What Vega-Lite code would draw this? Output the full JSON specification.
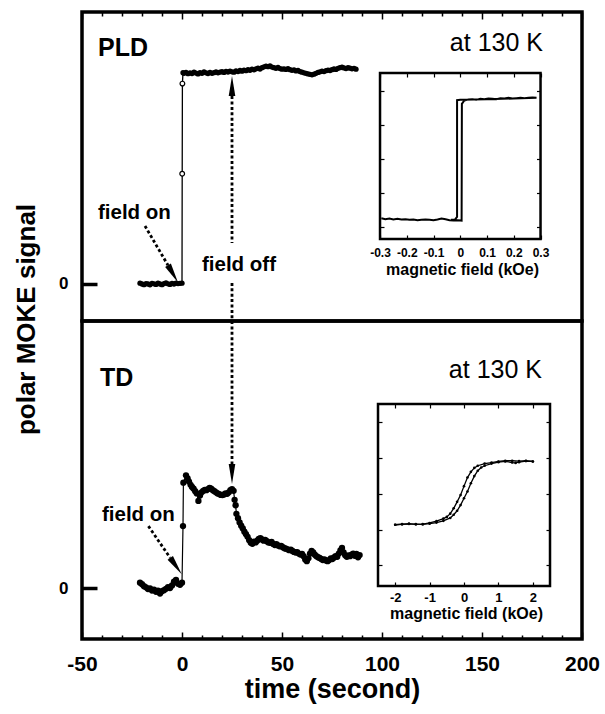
{
  "$schema": "https://vega.github.io/schema/vega-lite/v6.json",
  "padding": {"left": 11, "top": 9, "right": 0, "bottom": 0},
  "spacing": 0,
  "bounds": "flush",
  "config": {
    "view": {"stroke": "black", "strokeWidth": 3.5},
    "font": "Liberation Sans",
    "axis": {"grid": false, "domain": false, "tickColor": "black", "labelColor": "black", "titleColor": "black", "labelFontWeight": "bold", "titleFontWeight": "bold", "labelFont": "Liberation Sans", "titleFont": "Liberation Sans", "tickWidth": 1.5, "labelFlush": false, "labelOverlap": false}
  },
  "datasets": {
    "pld": [
      {"t": -21, "s": 0.004}, {"t": -20, "s": 0.0}, {"t": -19, "s": -0.003}, {"t": -18, "s": 0.002}, {"t": -17, "s": 0.0}, {"t": -16, "s": -0.004}, {"t": -15, "s": 0.003}, {"t": -14, "s": 0.001}, {"t": -13, "s": -0.002}, {"t": -12, "s": 0.004}, {"t": -11, "s": 0.0}, {"t": -10, "s": -0.003}, {"t": -9, "s": 0.002}, {"t": -8, "s": 0.005}, {"t": -7, "s": 0.001}, {"t": -6, "s": -0.002}, {"t": -5, "s": 0.003}, {"t": -4, "s": 0.0}, {"t": -3, "s": 0.004}, {"t": -2, "s": 0.002}, {"t": -1, "s": 0.003}, {"t": 0, "s": 0.004},
      {"t": 0.1, "s": 0.513, "k": "o"}, {"t": 0.2, "s": 0.932, "k": "o"},
      {"t": 0.5, "s": 0.983}, {"t": 1, "s": 0.980}, {"t": 2, "s": 0.984}, {"t": 3, "s": 0.978}, {"t": 4, "s": 0.982}, {"t": 5, "s": 0.979}, {"t": 6, "s": 0.985}, {"t": 7, "s": 0.981}, {"t": 8, "s": 0.977}, {"t": 9, "s": 0.983}, {"t": 10, "s": 0.980},
      {"t": 11, "s": 0.986}, {"t": 12, "s": 0.982}, {"t": 13, "s": 0.979}, {"t": 14, "s": 0.984}, {"t": 15, "s": 0.980}, {"t": 16, "s": 0.983}, {"t": 17, "s": 0.987}, {"t": 18, "s": 0.982}, {"t": 19, "s": 0.985}, {"t": 20, "s": 0.988},
      {"t": 21, "s": 0.984}, {"t": 22, "s": 0.989}, {"t": 23, "s": 0.986}, {"t": 24, "s": 0.990}, {"t": 25, "s": 0.987}, {"t": 26, "s": 0.985}, {"t": 27, "s": 0.991}, {"t": 28, "s": 0.988}, {"t": 29, "s": 0.993}, {"t": 30, "s": 0.990},
      {"t": 31, "s": 0.995}, {"t": 32, "s": 0.992}, {"t": 33, "s": 0.997}, {"t": 34, "s": 0.994}, {"t": 35, "s": 0.999}, {"t": 36, "s": 0.996}, {"t": 37, "s": 1.001}, {"t": 38, "s": 1.004}, {"t": 39, "s": 1.000}, {"t": 40, "s": 1.006},
      {"t": 41, "s": 1.010}, {"t": 42, "s": 1.013}, {"t": 43, "s": 1.011}, {"t": 44, "s": 1.014}, {"t": 45, "s": 1.009}, {"t": 46, "s": 1.006}, {"t": 47, "s": 1.003}, {"t": 48, "s": 1.007}, {"t": 49, "s": 1.002}, {"t": 50, "s": 0.999},
      {"t": 51, "s": 1.001}, {"t": 52, "s": 0.998}, {"t": 53, "s": 1.002}, {"t": 54, "s": 0.997}, {"t": 55, "s": 0.994}, {"t": 56, "s": 0.996}, {"t": 57, "s": 0.991}, {"t": 58, "s": 0.993}, {"t": 59, "s": 0.988}, {"t": 60, "s": 0.985},
      {"t": 61, "s": 0.982}, {"t": 62, "s": 0.980}, {"t": 63, "s": 0.977}, {"t": 64, "s": 0.975}, {"t": 65, "s": 0.973}, {"t": 66, "s": 0.976}, {"t": 67, "s": 0.980}, {"t": 68, "s": 0.984}, {"t": 69, "s": 0.987}, {"t": 70, "s": 0.990},
      {"t": 71, "s": 0.988}, {"t": 72, "s": 0.992}, {"t": 73, "s": 0.995}, {"t": 74, "s": 0.993}, {"t": 75, "s": 0.997}, {"t": 76, "s": 1.000}, {"t": 77, "s": 0.998}, {"t": 78, "s": 1.003}, {"t": 79, "s": 1.006}, {"t": 80, "s": 1.009},
      {"t": 81, "s": 1.005}, {"t": 82, "s": 1.002}, {"t": 83, "s": 1.006}, {"t": 84, "s": 1.004}, {"t": 85, "s": 1.001}, {"t": 86, "s": 1.003}, {"t": 87, "s": 0.999}
    ],
    "td": [
      {"t": -21, "s": 0.025}, {"t": -20, "s": 0.018}, {"t": -19, "s": 0.008}, {"t": -18, "s": 0.003}, {"t": -17, "s": -0.005}, {"t": -16, "s": -0.002}, {"t": -15, "s": -0.012}, {"t": -14, "s": -0.008}, {"t": -13, "s": -0.018}, {"t": -12, "s": -0.012}, {"t": -11, "s": -0.026}, {"t": -10, "s": -0.015}, {"t": -9, "s": -0.010}, {"t": -8, "s": -0.004}, {"t": -7, "s": 0.004}, {"t": -6, "s": 0.0}, {"t": -5, "s": 0.012}, {"t": -4, "s": 0.030}, {"t": -3, "s": 0.038}, {"t": -2, "s": 0.020}, {"t": -1, "s": 0.015}, {"t": 0, "s": 0.025},
      {"t": 0.5, "s": 0.288}, {"t": 0.7, "s": 0.49}, {"t": 2, "s": 0.524}, {"t": 2.8, "s": 0.51}, {"t": 3.5, "s": 0.495}, {"t": 4.3, "s": 0.48}, {"t": 5, "s": 0.47}, {"t": 5.8, "s": 0.462}, {"t": 6.6, "s": 0.45}, {"t": 7.4, "s": 0.44}, {"t": 8.2, "s": 0.405}, {"t": 9, "s": 0.43}, {"t": 9.8, "s": 0.445},
      {"t": 10.6, "s": 0.452}, {"t": 11.4, "s": 0.456}, {"t": 12.2, "s": 0.455}, {"t": 13, "s": 0.46}, {"t": 13.8, "s": 0.466}, {"t": 14.6, "s": 0.462}, {"t": 15.4, "s": 0.455}, {"t": 16.2, "s": 0.45}, {"t": 17, "s": 0.445}, {"t": 17.8, "s": 0.44}, {"t": 18.6, "s": 0.437}, {"t": 19.4, "s": 0.433}, {"t": 20.2, "s": 0.432}, {"t": 21, "s": 0.435}, {"t": 21.8, "s": 0.44}, {"t": 22.6, "s": 0.438}, {"t": 23.4, "s": 0.445}, {"t": 24.2, "s": 0.455}, {"t": 25, "s": 0.46}, {"t": 25.8, "s": 0.452},
      {"t": 26.3, "s": 0.41}, {"t": 26.8, "s": 0.385}, {"t": 27.2, "s": 0.345}, {"t": 28, "s": 0.325}, {"t": 28.8, "s": 0.305}, {"t": 29.6, "s": 0.29}, {"t": 30.4, "s": 0.277}, {"t": 31.2, "s": 0.262}, {"t": 32, "s": 0.25}, {"t": 32.8, "s": 0.238}, {"t": 33.6, "s": 0.222}, {"t": 34.4, "s": 0.21}, {"t": 35.2, "s": 0.206}, {"t": 36, "s": 0.215}, {"t": 36.8, "s": 0.212}, {"t": 37.6, "s": 0.22}, {"t": 38.4, "s": 0.228}, {"t": 39.2, "s": 0.232}, {"t": 40, "s": 0.226},
      {"t": 40.8, "s": 0.22}, {"t": 41.6, "s": 0.224}, {"t": 42.4, "s": 0.218}, {"t": 43.2, "s": 0.212}, {"t": 44, "s": 0.21}, {"t": 44.8, "s": 0.214}, {"t": 45.6, "s": 0.205}, {"t": 46.4, "s": 0.2}, {"t": 47.2, "s": 0.204}, {"t": 48, "s": 0.198}, {"t": 48.8, "s": 0.194}, {"t": 49.6, "s": 0.196}, {"t": 50.4, "s": 0.19}, {"t": 51.2, "s": 0.185}, {"t": 52, "s": 0.183}, {"t": 52.8, "s": 0.18}, {"t": 53.6, "s": 0.176}, {"t": 54.4, "s": 0.178}, {"t": 55.2, "s": 0.172}, {"t": 56, "s": 0.168},
      {"t": 56.8, "s": 0.165}, {"t": 57.6, "s": 0.167}, {"t": 58.4, "s": 0.16}, {"t": 59.2, "s": 0.156}, {"t": 60, "s": 0.158}, {"t": 60.8, "s": 0.148}, {"t": 61.6, "s": 0.132}, {"t": 62.4, "s": 0.125}, {"t": 63.2, "s": 0.138}, {"t": 64, "s": 0.16}, {"t": 64.8, "s": 0.172}, {"t": 65.6, "s": 0.165}, {"t": 66.4, "s": 0.155}, {"t": 67.2, "s": 0.148}, {"t": 68, "s": 0.143}, {"t": 68.8, "s": 0.14}, {"t": 69.6, "s": 0.135}, {"t": 70.4, "s": 0.13}, {"t": 71.2, "s": 0.133}, {"t": 72, "s": 0.128},
      {"t": 72.8, "s": 0.125}, {"t": 73.6, "s": 0.13}, {"t": 74.4, "s": 0.138}, {"t": 75.2, "s": 0.135}, {"t": 76, "s": 0.142}, {"t": 76.8, "s": 0.148}, {"t": 77.6, "s": 0.145}, {"t": 78.4, "s": 0.16}, {"t": 79.2, "s": 0.175}, {"t": 80, "s": 0.186}, {"t": 80.8, "s": 0.165}, {"t": 81.6, "s": 0.152}, {"t": 82.4, "s": 0.145}, {"t": 83.2, "s": 0.152}, {"t": 84, "s": 0.148}, {"t": 84.8, "s": 0.155}, {"t": 85.6, "s": 0.16}, {"t": 86.4, "s": 0.15}, {"t": 87.2, "s": 0.158}, {"t": 88, "s": 0.143}, {"t": 88.8, "s": 0.153}
    ],
    "pld_loop": [
      {"i": 0, "x": -0.295, "y": -1.74}, {"i": 1, "x": -0.28, "y": -1.77}, {"i": 2, "x": -0.265, "y": -1.75}, {"i": 3, "x": -0.25, "y": -1.78}, {"i": 4, "x": -0.235, "y": -1.76}, {"i": 5, "x": -0.22, "y": -1.78}, {"i": 6, "x": -0.205, "y": -1.77}, {"i": 7, "x": -0.19, "y": -1.79}, {"i": 8, "x": -0.175, "y": -1.78}, {"i": 9, "x": -0.16, "y": -1.8}, {"i": 10, "x": -0.145, "y": -1.79}, {"i": 11, "x": -0.13, "y": -1.78}, {"i": 12, "x": -0.115, "y": -1.79}, {"i": 13, "x": -0.1, "y": -1.8}, {"i": 14, "x": -0.085, "y": -1.78}, {"i": 15, "x": -0.07, "y": -1.75}, {"i": 16, "x": -0.055, "y": -1.77}, {"i": 17, "x": -0.04, "y": -1.8}, {"i": 18, "x": -0.025, "y": -1.81}, {"i": 19, "x": -0.01, "y": -1.8}, {"i": 20, "x": 0.005, "y": -1.81},
      {"i": 21, "x": 0.006, "y": 1.62}, {"i": 22, "x": 0.015, "y": 1.72}, {"i": 23, "x": 0.03, "y": 1.75}, {"i": 24, "x": 0.045, "y": 1.76}, {"i": 25, "x": 0.06, "y": 1.74}, {"i": 26, "x": 0.075, "y": 1.77}, {"i": 27, "x": 0.09, "y": 1.76}, {"i": 28, "x": 0.105, "y": 1.78}, {"i": 29, "x": 0.12, "y": 1.77}, {"i": 30, "x": 0.135, "y": 1.76}, {"i": 31, "x": 0.15, "y": 1.79}, {"i": 32, "x": 0.165, "y": 1.78}, {"i": 33, "x": 0.18, "y": 1.8}, {"i": 34, "x": 0.195, "y": 1.78}, {"i": 35, "x": 0.21, "y": 1.79}, {"i": 36, "x": 0.225, "y": 1.8}, {"i": 37, "x": 0.24, "y": 1.79}, {"i": 38, "x": 0.255, "y": 1.8}, {"i": 39, "x": 0.27, "y": 1.81}, {"i": 40, "x": 0.285, "y": 1.8},
      {"i": 41, "x": 0.2, "y": 1.78}, {"i": 42, "x": 0.1, "y": 1.76}, {"i": 43, "x": 0.0, "y": 1.74}, {"i": 44, "x": -0.012, "y": 1.73}, {"i": 45, "x": -0.012, "y": -1.7}, {"i": 46, "x": -0.02, "y": -1.78}, {"i": 47, "x": -0.035, "y": -1.79}
    ],
    "td_loop": [
      {"b": "down", "x": -2.0, "y": -0.86}, {"b": "down", "x": -1.8, "y": -0.84}, {"b": "down", "x": -1.6, "y": -0.83}, {"b": "down", "x": -1.4, "y": -0.85}, {"b": "down", "x": -1.2, "y": -0.84}, {"b": "down", "x": -1.0, "y": -0.81}, {"b": "down", "x": -0.8, "y": -0.76}, {"b": "down", "x": -0.6, "y": -0.69}, {"b": "down", "x": -0.5, "y": -0.64}, {"b": "down", "x": -0.4, "y": -0.55}, {"b": "down", "x": -0.3, "y": -0.4}, {"b": "down", "x": -0.2, "y": -0.22}, {"b": "down", "x": -0.1, "y": -0.03}, {"b": "down", "x": 0.0, "y": 0.22}, {"b": "down", "x": 0.1, "y": 0.46}, {"b": "down", "x": 0.2, "y": 0.62}, {"b": "down", "x": 0.3, "y": 0.73}, {"b": "down", "x": 0.4, "y": 0.79}, {"b": "down", "x": 0.6, "y": 0.85}, {"b": "down", "x": 0.8, "y": 0.88}, {"b": "down", "x": 1.0, "y": 0.91}, {"b": "down", "x": 1.2, "y": 0.93}, {"b": "down", "x": 1.4, "y": 0.93}, {"b": "down", "x": 1.6, "y": 0.92}, {"b": "down", "x": 1.8, "y": 0.93}, {"b": "down", "x": 2.0, "y": 0.91},
      {"b": "up", "x": -2.0, "y": -0.86}, {"b": "up", "x": -1.8, "y": -0.85}, {"b": "up", "x": -1.6, "y": -0.84}, {"b": "up", "x": -1.4, "y": -0.84}, {"b": "up", "x": -1.2, "y": -0.85}, {"b": "up", "x": -1.0, "y": -0.83}, {"b": "up", "x": -0.8, "y": -0.8}, {"b": "up", "x": -0.6, "y": -0.75}, {"b": "up", "x": -0.4, "y": -0.67}, {"b": "up", "x": -0.3, "y": -0.58}, {"b": "up", "x": -0.2, "y": -0.47}, {"b": "up", "x": -0.1, "y": -0.31}, {"b": "up", "x": 0.0, "y": -0.12}, {"b": "up", "x": 0.1, "y": 0.07}, {"b": "up", "x": 0.2, "y": 0.3}, {"b": "up", "x": 0.3, "y": 0.5}, {"b": "up", "x": 0.4, "y": 0.65}, {"b": "up", "x": 0.5, "y": 0.74}, {"b": "up", "x": 0.6, "y": 0.79}, {"b": "up", "x": 0.8, "y": 0.85}, {"b": "up", "x": 1.0, "y": 0.89}, {"b": "up", "x": 1.2, "y": 0.91}, {"b": "up", "x": 1.4, "y": 0.88}, {"b": "up", "x": 1.5, "y": 0.87}, {"b": "up", "x": 1.6, "y": 0.89}, {"b": "up", "x": 1.8, "y": 0.92}, {"b": "up", "x": 2.0, "y": 0.91}
    ]
  },
  "vconcat": [
    {
      "width": 500,
      "height": 309,
      "resolve": {"scale": {"x": "independent", "y": "independent"}},
      "layer": [
        {
          "resolve": {"axis": {"x": "independent", "y": "independent"}},
          "layer": [
            {
              "data": {"name": "pld"},
              "mark": {"type": "line", "color": "black", "strokeWidth": 1.3},
              "encoding": {
                "x": {"field": "t", "type": "quantitative", "scale": {"domain": [-50, 200], "nice": false, "zero": false},
                  "axis": {"orient": "top", "values": [-50, 0, 50, 100, 150, 200], "tickSize": -7, "labels": false, "title": null}},
                "y": {"field": "s", "type": "quantitative", "scale": {"domain": [-0.1721, 1.2651], "nice": false, "zero": false},
                  "axis": {"orient": "left", "values": [0], "tickSize": -15, "tickWidth": 3.5, "labelFontSize": 17, "labelPadding": 29,
                    "title": "polar MOKE signal", "titleFontSize": 26, "titleX": -56, "titleY": 307, "titleBaseline": "middle", "titleAngle": 270}}
              }
            },
            {
              "data": {"name": "pld"},
              "transform": [{"filter": "datum.k !== 'o'"}],
              "mark": {"type": "circle", "color": "black", "size": 28, "opacity": 1},
              "encoding": {
                "x": {"field": "t", "type": "quantitative",
                  "axis": {"orient": "top", "values": [-40, -30, -20, -10, 10, 20, 30, 40, 60, 70, 80, 90, 110, 120, 130, 140, 160, 170, 180, 190], "tickSize": -4, "labels": false, "title": null}},
                "y": {"field": "s", "type": "quantitative", "axis": null}
              }
            },
            {
              "data": {"name": "pld"},
              "transform": [{"filter": "datum.k === 'o'"}],
              "mark": {"type": "circle", "fill": "white", "stroke": "black", "strokeWidth": 1.2, "size": 22, "opacity": 1},
              "encoding": {
                "x": {"field": "t", "type": "quantitative", "axis": null},
                "y": {"field": "s", "type": "quantitative", "axis": null}
              }
            },
            {
              "data": {"values": [
                {"t": -18.5, "s": 0.27, "t2": -7, "s2": 0.087},
                {"t": 25, "s": 0.874, "t2": 25, "s2": 0.191},
                {"t": 25, "s": 0.005, "t2": 25, "s2": -0.1721}
              ]},
              "mark": {"type": "rule", "color": "black", "strokeWidth": 2.8, "strokeDash": [3, 2.4]},
              "encoding": {
                "x": {"field": "t", "type": "quantitative", "axis": null},
                "y": {"field": "s", "type": "quantitative", "axis": null},
                "x2": {"field": "t2"},
                "y2": {"field": "s2"}
              }
            },
            {
              "data": {"values": [{"t": -4.5, "s": 0.047}]},
              "mark": {"type": "point", "shape": "M0,1L-0.33,-1L0.33,-1Z", "filled": true, "color": "black", "opacity": 1, "size": 400, "angle": 330},
              "encoding": {
                "x": {"field": "t", "type": "quantitative", "axis": null},
                "y": {"field": "s", "type": "quantitative", "axis": null}
              }
            },
            {
              "data": {"values": [{"t": 25, "s": 0.921}]},
              "mark": {"type": "point", "shape": "M0,-1L-0.33,1L0.33,1Z", "filled": true, "color": "black", "opacity": 1, "size": 400},
              "encoding": {
                "x": {"field": "t", "type": "quantitative", "axis": null},
                "y": {"field": "s", "type": "quantitative", "axis": null}
              }
            },
            {
              "data": {"values": [{"t": -42, "s": 1.06, "label": "PLD"}]},
              "mark": {"type": "text", "align": "left", "baseline": "alphabetic", "fontSize": 25, "fontWeight": "bold", "color": "black"},
              "encoding": {
                "x": {"field": "t", "type": "quantitative", "axis": null},
                "y": {"field": "s", "type": "quantitative", "axis": null},
                "text": {"field": "label"}
              }
            },
            {
              "data": {"values": [{"t": -42, "s": 0.302, "label": "field on"}, {"t": 10, "s": 0.06, "label": "field off"}]},
              "mark": {"type": "text", "align": "left", "baseline": "alphabetic", "fontSize": 20.5, "fontWeight": "bold", "color": "black"},
              "encoding": {
                "x": {"field": "t", "type": "quantitative", "axis": null},
                "y": {"field": "s", "type": "quantitative", "axis": null},
                "text": {"field": "label"}
              }
            },
            {
              "data": {"values": [{"t": 180.5, "s": 1.084, "label": "at 130 K"}]},
              "mark": {"type": "text", "align": "right", "baseline": "alphabetic", "fontSize": 25, "fontWeight": "normal", "color": "black"},
              "encoding": {
                "x": {"field": "t", "type": "quantitative", "axis": null},
                "y": {"field": "s", "type": "quantitative", "axis": null},
                "text": {"field": "label"}
              }
            }
          ]
        },
        {
          "resolve": {"axis": {"x": "independent", "y": "independent"}},
          "layer": [
            {
              "data": {"values": [{"x": -0.3, "x2": 0.3, "y": -2.353, "y2": 2.529}]},
              "mark": {"type": "rect", "filled": false, "color": "black", "strokeWidth": 2.5},
              "encoding": {
                "x": {"field": "x", "type": "quantitative", "scale": {"domain": [-1.414, 0.455], "nice": false, "zero": false},
                  "axis": {"orient": "bottom", "offset": -82, "values": [-0.3, -0.2, -0.1, 0, 0.1, 0.2, 0.3], "tickSize": -4, "tickWidth": 1.2, "labelFontSize": 12, "labelPadding": 12, "labelExpr": "toString(datum.value)",
                    "title": "magnetic field (kOe)", "titleFontSize": 16, "titlePadding": 3, "titleX": 380}},
                "x2": {"field": "x2"},
                "y": {"field": "y", "type": "quantitative", "scale": {"domain": [-4.765, 4.324], "nice": false, "zero": false},
                  "axis": {"orient": "left", "offset": -298, "values": [-2, -1, 0, 1, 2], "tickSize": -4, "tickWidth": 1.2, "labels": false, "title": null}},
                "y2": {"field": "y2"}
              }
            },
            {
              "data": {"name": "pld_loop"},
              "mark": {"type": "line", "color": "black", "strokeWidth": 2},
              "encoding": {
                "x": {"field": "x", "type": "quantitative",
                  "axis": {"orient": "top", "offset": -61, "values": [-0.3, -0.2, -0.1, 0, 0.1, 0.2, 0.3], "tickSize": -4, "tickWidth": 1.2, "labels": false, "title": null}},
                "y": {"field": "y", "type": "quantitative",
                  "axis": {"orient": "right", "offset": -41.5, "values": [-2, -1, 0, 1, 2], "tickSize": -4, "tickWidth": 1.2, "labels": false, "title": null}},
                "order": {"field": "i", "type": "quantitative"}
              }
            }
          ]
        }
      ]
    },
    {
      "width": 500,
      "height": 318,
      "resolve": {"scale": {"x": "independent", "y": "independent"}},
      "layer": [
        {
          "resolve": {"axis": {"x": "independent", "y": "independent"}},
          "layer": [
            {
              "data": {"name": "td"},
              "mark": {"type": "line", "color": "black", "strokeWidth": 1.2},
              "encoding": {
                "x": {"field": "t", "type": "quantitative", "scale": {"domain": [-50, 200], "nice": false, "zero": false},
                  "axis": {"orient": "bottom", "values": [-50, 0, 50, 100, 150, 200], "tickSize": -7, "labelFontSize": 21, "labelPadding": 21, "labelExpr": "toString(datum.value)",
                    "title": "time (second)", "titleFontSize": 27, "titlePadding": 2}},
                "y": {"field": "s", "type": "quantitative", "scale": {"domain": [-0.2372, 1.2419], "nice": false, "zero": false},
                  "axis": {"orient": "left", "values": [0], "tickSize": -15, "tickWidth": 3.5, "labelFontSize": 17, "labelPadding": 29, "title": null}}
              }
            },
            {
              "data": {"name": "td"},
              "mark": {"type": "circle", "color": "black", "size": 40, "opacity": 1},
              "encoding": {
                "x": {"field": "t", "type": "quantitative",
                  "axis": {"orient": "bottom", "values": [-40, -30, -20, -10, 10, 20, 30, 40, 60, 70, 80, 90, 110, 120, 130, 140, 160, 170, 180, 190], "tickSize": -4, "labels": false, "title": null}},
                "y": {"field": "s", "type": "quantitative", "axis": null}
              }
            },
            {
              "data": {"values": [
                {"t": -16.8, "s": 0.288, "t2": -5.9, "s2": 0.14},
                {"t": 25, "s": 1.2419, "t2": 25, "s2": 0.577}
              ]},
              "mark": {"type": "rule", "color": "black", "strokeWidth": 2.8, "strokeDash": [3, 2.4]},
              "encoding": {
                "x": {"field": "t", "type": "quantitative", "axis": null},
                "y": {"field": "s", "type": "quantitative", "axis": null},
                "x2": {"field": "t2"},
                "y2": {"field": "s2"}
              }
            },
            {
              "data": {"values": [{"t": -3, "s": 0.102}]},
              "mark": {"type": "point", "shape": "M0,1L-0.33,-1L0.33,-1Z", "filled": true, "color": "black", "opacity": 1, "size": 400, "angle": 325},
              "encoding": {
                "x": {"field": "t", "type": "quantitative", "axis": null},
                "y": {"field": "s", "type": "quantitative", "axis": null}
              }
            },
            {
              "data": {"values": [{"t": 25, "s": 0.53}]},
              "mark": {"type": "point", "shape": "M0,1L-0.33,-1L0.33,-1Z", "filled": true, "color": "black", "opacity": 1, "size": 400},
              "encoding": {
                "x": {"field": "t", "type": "quantitative", "axis": null},
                "y": {"field": "s", "type": "quantitative", "axis": null}
              }
            },
            {
              "data": {"values": [{"t": -41, "s": 0.94, "label": "TD"}]},
              "mark": {"type": "text", "align": "left", "baseline": "alphabetic", "fontSize": 25, "fontWeight": "bold", "color": "black"},
              "encoding": {
                "x": {"field": "t", "type": "quantitative", "axis": null},
                "y": {"field": "s", "type": "quantitative", "axis": null},
                "text": {"field": "label"}
              }
            },
            {
              "data": {"values": [{"t": -40, "s": 0.312, "label": "field on"}]},
              "mark": {"type": "text", "align": "left", "baseline": "alphabetic", "fontSize": 20.5, "fontWeight": "bold", "color": "black"},
              "encoding": {
                "x": {"field": "t", "type": "quantitative", "axis": null},
                "y": {"field": "s", "type": "quantitative", "axis": null},
                "text": {"field": "label"}
              }
            },
            {
              "data": {"values": [{"t": 180, "s": 0.977, "label": "at 130 K"}]},
              "mark": {"type": "text", "align": "right", "baseline": "alphabetic", "fontSize": 25, "fontWeight": "normal", "color": "black"},
              "encoding": {
                "x": {"field": "t", "type": "quantitative", "axis": null},
                "y": {"field": "s", "type": "quantitative", "axis": null},
                "text": {"field": "label"}
              }
            }
          ]
        },
        {
          "resolve": {"axis": {"x": "independent", "y": "independent"}},
          "layer": [
            {
              "data": {"values": [{"x": -2.5, "x2": 2.5, "y": -2.573, "y2": 2.517}]},
              "mark": {"type": "rect", "filled": false, "color": "black", "strokeWidth": 2.5},
              "encoding": {
                "x": {"field": "x", "type": "quantitative", "scale": {"domain": [-11.105, 3.43], "nice": false, "zero": false},
                  "axis": {"orient": "bottom", "offset": -53, "values": [-2, -1, 0, 1, 2], "tickSize": -4, "tickWidth": 1.2, "labelFontSize": 13, "labelPadding": 9, "labelExpr": "toString(datum.value)",
                    "title": "magnetic field (kOe)", "titleFontSize": 16, "titlePadding": 1, "titleX": 384}},
                "x2": {"field": "x2"},
                "y": {"field": "y", "type": "quantitative", "scale": {"domain": [-4.056, 4.839], "nice": false, "zero": false},
                  "axis": {"orient": "left", "offset": -296, "values": [-2, -1, 0, 1, 2], "tickSize": -4, "tickWidth": 1.2, "labels": false, "title": null}},
                "y2": {"field": "y2"}
              }
            },
            {
              "data": {"name": "td_loop"},
              "mark": {"type": "line", "color": "black", "strokeWidth": 1.3},
              "encoding": {
                "x": {"field": "x", "type": "quantitative",
                  "axis": {"orient": "top", "offset": -83, "values": [-2, -1, 0, 1, 2], "tickSize": -4, "tickWidth": 1.2, "labels": false, "title": null}},
                "y": {"field": "y", "type": "quantitative",
                  "axis": {"orient": "right", "offset": -32, "values": [-2, -1, 0, 1, 2], "tickSize": -4, "tickWidth": 1.2, "labels": false, "title": null}},
                "detail": {"field": "b"}
              }
            },
            {
              "data": {"name": "td_loop"},
              "mark": {"type": "circle", "color": "black", "size": 7, "opacity": 1},
              "encoding": {
                "x": {"field": "x", "type": "quantitative", "axis": null},
                "y": {"field": "y", "type": "quantitative", "axis": null}
              }
            }
          ]
        }
      ]
    }
  ]
}
